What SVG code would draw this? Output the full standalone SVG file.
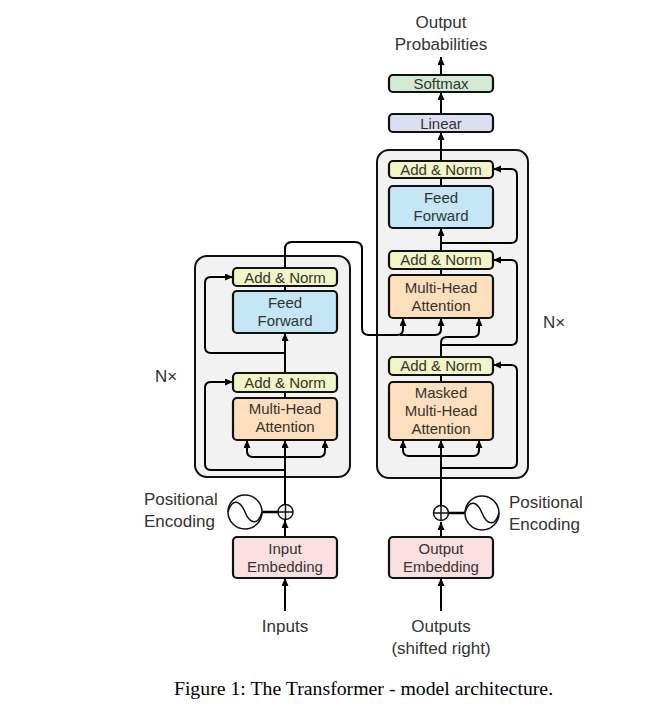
<svg xmlns="http://www.w3.org/2000/svg" width="670" height="707" viewBox="0 0 670 707">
<defs>
<marker id="ah" markerUnits="userSpaceOnUse" markerWidth="9" markerHeight="8" refX="8" refY="3.5" orient="auto">
<path d="M0,0 L8,3.5 L0,7 z" fill="#000"/>
</marker>
<style>
.stack{fill:#f2f2f2;stroke:#111;stroke-width:2}
.n{stroke:#111;stroke-width:2.2}
.an{fill:#f2f5c6}
.ff{fill:#c4e6f5}
.mha{fill:#fddfbd}
.emb{fill:#fbdfe1}
.sm{fill:#d3ebd5}
.lin{fill:#dcdff2}
.t{font-family:"Liberation Sans",Arial,sans-serif;font-size:15px;fill:#333;text-anchor:middle}
.o{font-family:"Liberation Sans",Arial,sans-serif;font-size:17px;fill:#333}
.c{fill:none;stroke:#000;stroke-width:2}
.ca{fill:none;stroke:#000;stroke-width:2;marker-end:url(#ah)}
.pe{fill:#fff;stroke:#111;stroke-width:1.5}
</style>
</defs>
<rect width="670" height="707" fill="#fff"/>

<g id="encoder-stack">
<rect class="stack" x="195" y="256" width="155" height="221" rx="12"/>
<text class="o" x="155" y="382">N×</text>
</g>
<g id="decoder-stack">
<rect class="stack" x="377" y="150" width="151" height="328" rx="12"/>
<text class="o" x="543" y="328">N×</text>
</g>

<g id="connectors">
<!-- encoder -->
<path class="ca" d="M285,611 V578"/>
<path class="ca" d="M285,537 V520"/>
<path class="ca" d="M285,504 V440"/>
<path class="ca" d="M285,457 H253 Q247,457 247,451 V440"/>
<path class="ca" d="M285,457 H319 Q325,457 325,451 V440"/>
<path class="ca" d="M285,470 H211 Q205,470 205,464 V388 Q205,382 211,382 H233"/>
<path class="c" d="M285,398 V392"/>
<path class="ca" d="M285,373 V333"/>
<path class="ca" d="M285,353 H211 Q205,353 205,347 V283 Q205,277 211,277 H233"/>
<path class="c" d="M285,291 V286"/>
<path class="ca" d="M285,267 V249 Q285,242 292,242 H355 Q362,242 362,249 V328 Q362,335 369,335 H397 Q403,335 403,329 V318"/>
<path class="ca" d="M400,335 H435 Q441,335 441,329 V318"/>
<line class="c" x1="262" y1="512" x2="278" y2="512" style="stroke-width:2.5"/>
<!-- decoder -->
<path class="ca" d="M441,611 V578"/>
<path class="ca" d="M441,537 V522"/>
<path class="ca" d="M441,506 V440"/>
<path class="ca" d="M441,456 H409 Q403,456 403,450 V440"/>
<path class="ca" d="M441,456 H473 Q479,456 479,450 V440"/>
<path class="ca" d="M441,468 H511 Q517,468 517,462 V371 Q517,365 511,365 H493"/>
<path class="c" d="M441,382 V375"/>
<path class="ca" d="M441,357 V343 Q441,337 447,337 H473 Q479,337 479,331 V318"/>
<path class="ca" d="M441,345 H511 Q517,345 517,339 V266 Q517,260 511,260 H493"/>
<path class="c" d="M441,275 V269"/>
<path class="ca" d="M441,251 V228"/>
<path class="ca" d="M441,243 H511 Q517,243 517,237 V175 Q517,169 511,169 H493"/>
<path class="c" d="M441,186 V178"/>
<path class="ca" d="M441,161 V132"/>
<path class="ca" d="M441,114 V92"/>
<path class="ca" d="M441,75 V57"/>
<line class="c" x1="449" y1="513" x2="465" y2="513" style="stroke-width:2.5"/>
</g>

<g id="enc-add-norm-2">
<rect class="n an" x="233" y="268" width="104" height="18" rx="4"/>
<text class="t" x="285" y="282.5">Add &amp; Norm</text>
</g>
<g id="enc-feed-forward">
<rect class="n ff" x="233" y="291" width="104" height="42" rx="4"/>
<text class="t" x="285" y="308">Feed</text>
<text class="t" x="285" y="326">Forward</text>
</g>
<g id="enc-add-norm-1">
<rect class="n an" x="233" y="373" width="104" height="19" rx="4"/>
<text class="t" x="285" y="388">Add &amp; Norm</text>
</g>
<g id="enc-mha">
<rect class="n mha" x="233" y="398" width="104" height="42" rx="4"/>
<text class="t" x="285" y="414">Multi-Head</text>
<text class="t" x="285" y="432">Attention</text>
</g>
<g id="enc-pos">
<circle class="pe" cx="285.5" cy="512" r="7.5"/>
<path d="M285.5,504.5 V519.5 M278,512 H293" stroke="#111" stroke-width="1.5"/>
<circle class="pe" cx="245" cy="512" r="17"/>
<path d="M228,512 C232,498 240,500 245,512 C250,524 258,526 262,512" fill="none" stroke="#111" stroke-width="1.5"/>
<text class="o" x="144" y="505">Positional</text>
<text class="o" x="144" y="527">Encoding</text>
</g>
<g id="input-embedding">
<rect class="n emb" x="233" y="537" width="104" height="41" rx="4"/>
<text class="t" x="285" y="554">Input</text>
<text class="t" x="285" y="572">Embedding</text>
</g>
<text class="o" x="285" y="632" text-anchor="middle">Inputs</text>

<g id="dec-add-norm-3">
<rect class="n an" x="389" y="161" width="104" height="17" rx="4"/>
<text class="t" x="441" y="175">Add &amp; Norm</text>
</g>
<g id="dec-feed-forward">
<rect class="n ff" x="389" y="186" width="104" height="42" rx="4"/>
<text class="t" x="441" y="203">Feed</text>
<text class="t" x="441" y="221">Forward</text>
</g>
<g id="dec-add-norm-2">
<rect class="n an" x="389" y="251" width="104" height="18" rx="4"/>
<text class="t" x="441" y="265">Add &amp; Norm</text>
</g>
<g id="dec-mha">
<rect class="n mha" x="389" y="275" width="104" height="43" rx="4"/>
<text class="t" x="441" y="293">Multi-Head</text>
<text class="t" x="441" y="311">Attention</text>
</g>
<g id="dec-add-norm-1">
<rect class="n an" x="389" y="357" width="104" height="18" rx="4"/>
<text class="t" x="441" y="371">Add &amp; Norm</text>
</g>
<g id="dec-masked-mha">
<rect class="n mha" x="389" y="382" width="104" height="58" rx="4"/>
<text class="t" x="441" y="398">Masked</text>
<text class="t" x="441" y="416">Multi-Head</text>
<text class="t" x="441" y="434">Attention</text>
</g>
<g id="dec-pos">
<circle class="pe" cx="441" cy="513" r="7.5"/>
<path d="M441,505.5 V520.5 M433.5,513 H448.5" stroke="#111" stroke-width="1.5"/>
<circle class="pe" cx="482" cy="513" r="17"/>
<path d="M465,513 C469,499 477,501 482,513 C487,525 495,527 499,513" fill="none" stroke="#111" stroke-width="1.5"/>
<text class="o" x="509" y="508">Positional</text>
<text class="o" x="509" y="530">Encoding</text>
</g>
<g id="output-embedding">
<rect class="n emb" x="389" y="537" width="104" height="41" rx="4"/>
<text class="t" x="441" y="554">Output</text>
<text class="t" x="441" y="572">Embedding</text>
</g>
<text class="o" x="441" y="632" text-anchor="middle">Outputs</text>
<text class="o" x="441" y="654" text-anchor="middle">(shifted right)</text>

<g id="linear">
<rect class="n lin" x="389" y="114" width="104" height="18" rx="4"/>
<text class="t" x="441" y="128.5">Linear</text>
</g>
<g id="softmax">
<rect class="n sm" x="389" y="75" width="104" height="17" rx="4"/>
<text class="t" x="441" y="89">Softmax</text>
</g>
<text class="o" x="441" y="28" text-anchor="middle">Output</text>
<text class="o" x="441" y="50" text-anchor="middle">Probabilities</text>

<text x="363.5" y="695" font-family="'Liberation Serif','Times New Roman',serif" font-size="19.8" fill="#000" text-anchor="middle">Figure 1: The Transformer - model architecture.</text>
</svg>
